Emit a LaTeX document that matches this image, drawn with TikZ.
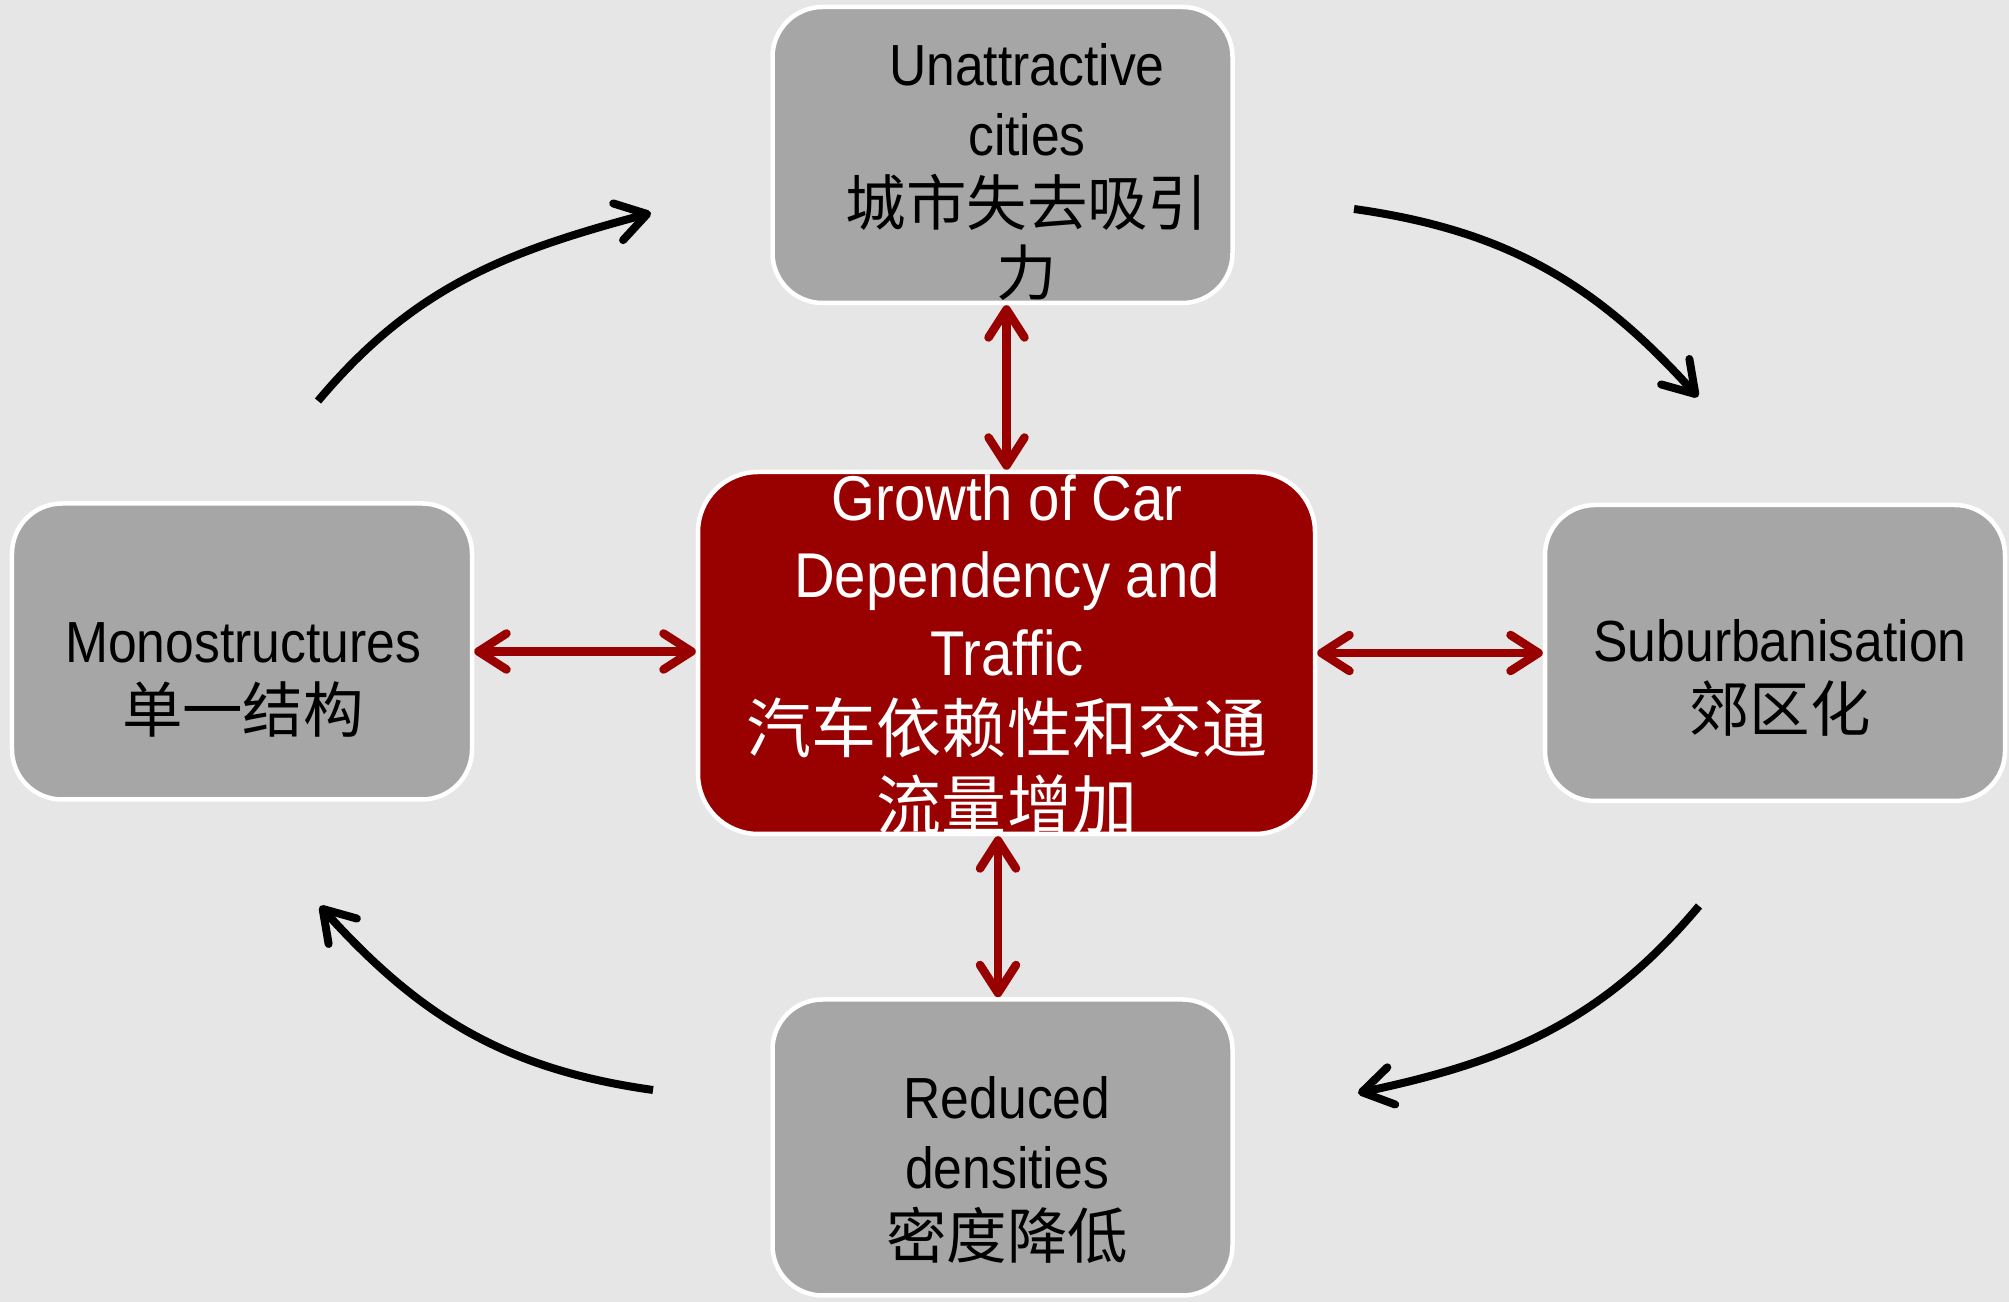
\documentclass[tikz,border=0pt]{standalone}
\usepackage{fontspec}
\setmainfont{Liberation Sans}[FakeStretch=0.89]
\newfontfamily\cjk{Noto Sans CJK SC}
\usepackage{tikz}
\usetikzlibrary{arrows.meta}
\usetikzlibrary{positioning}
\definecolor{bgGrey}{HTML}{E6E6E6}
\definecolor{boxGrey}{HTML}{A6A6A6}
\definecolor{carRed}{HTML}{990000}
\newcommand{\zhtxt}[1]{{\cjk\fontsize{17.2}{20}\selectfont #1}}
\newcommand{\zhred}[1]{{\cjk\fontsize{18.5}{22}\selectfont #1}}
\tikzset{
  box_g/.style = {rectangle, rounded corners=0.5cm, draw=white,
    line width=0.045cm, fill=boxGrey, minimum width=4.6cm,
    minimum height=2.96cm},                       % grey box
  box_r/.style = {box_g, fill=carRed, rounded corners=0.6cm,
    minimum width=6.17cm, minimum height=3.62cm}, % red box
  txt_g/.style = {align=center, inner sep=0pt, black,
    font=\fontsize{16.5}{20}\selectfont},         % grey box text
  txt_r/.style = {align=center, inner sep=0pt, white,
    font=\fontsize{18}{22}\selectfont},           % red box text
  link_r/.style = {carRed, line width=0.085cm,
    {Straight Barb[length=0.28cm,width=0.36cm,round]}-{Straight Barb[length=0.28cm,width=0.36cm,round]}},
  cycle_k/.style = {black, line width=0.08cm,
    -{Straight Barb[length=0.3cm,width=0.38cm,round]}}
}

\begin{document}
\begin{tikzpicture}
  \useasboundingbox (0,0) rectangle (20.09,13.02);
  \fill[bgGrey] (0,0) rectangle (20.09,13.02);

  % boxes
  \node[box_g] (top) at (10.025,11.47) {};
  \node[box_g] (left) at (2.42,6.505) {};
  \node[box_g] (right) at (17.75,6.49) {};
  \node[box_g] (bot) at (10.025,1.545) {};
  \node[box_r] (car) at (10.065,6.49) {};

  % texts
  \node[txt_g] (top_t) at (10.27,11.30)
    {Unattractive\\cities\\\zhtxt{城市失去吸引}\\\zhtxt{力}};
  \node[txt_g] (left_t) at (2.43,6.22) {Monostructures\\\zhtxt{单一结构}};
  \node[txt_g] (right_t) at (17.80,6.24) {Suburbanisation\\\zhtxt{郊区化}};
  \node[txt_g] (bot_t) at (10.07,1.32) {Reduced\\densities\\\zhtxt{密度降低}};
  \node[txt_r] (car_t) at (10.07,6.47)
    {Growth of Car\\Dependency and\\Traffic\\\zhred{汽车依赖性和交通}\\\zhred{流量增加}};

  % red links
  \draw[link_r] (car.north) -- (car.north |- top.south);
  \draw[link_r] ([xshift=-0.085cm]car.south) -- ([xshift=-0.085cm]car.south |- bot.north);
  \draw[link_r] (left.east) -- (left.east -| car.west);
  \draw[link_r] (right.west) -- (right.west -| car.east);

  % cycle
  \coordinate (tl_a) at (3.18,9.01);
  \coordinate (tl_b) at (6.51,10.89);
  \coordinate (tr_a) at (13.54,10.93);
  \coordinate (tr_b) at (16.98,9.05);
  \coordinate (br_a) at (16.99,3.96);
  \coordinate (br_b) at (13.58,2.09);
  \coordinate (bl_a) at (6.53,2.12);
  \coordinate (bl_b) at (3.20,3.96);
  \draw[cycle_k] (tl_a) to[out=50,in=195] (tl_b);
  \draw[cycle_k] (tr_a) to[out=-8,in=132] (tr_b);
  \draw[cycle_k] (br_a) to[out=-130,in=12] (br_b);
  \draw[cycle_k] (bl_a) to[out=172,in=-48] (bl_b);
\end{tikzpicture}
\end{document}
